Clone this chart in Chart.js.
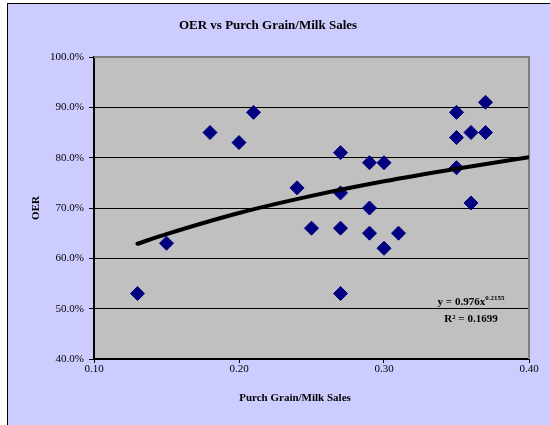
<!DOCTYPE html>
<html>
<head>
<meta charset="utf-8">
<title>OER vs Purch Grain/Milk Sales</title>
<script src="https://cdn.jsdelivr.net/npm/chart.js@4.4.1/dist/chart.umd.min.js"></script>
<style>
  body { margin: 0; background: #ffffff; }
  canvas { display: block; }
</style>
</head>
<body>
<canvas id="oerChart" width="550" height="425"></canvas>
<script>
// Data
const grainMilkRatio = [0.13, 0.15, 0.18, 0.20, 0.21, 0.24, 0.25, 0.27, 0.27, 0.27, 0.27, 0.29,
                        0.30, 0.29, 0.29, 0.30, 0.31, 0.35, 0.35, 0.35, 0.36, 0.36, 0.37, 0.37];
const oerPercent = [53, 63, 85, 83, 89, 74, 66, 81, 73, 66, 53, 79,
                    79, 70, 65, 62, 65, 89, 84, 78, 85, 71, 91, 85];

const trendX = [0.13, 0.15, 0.20, 0.25, 0.30, 0.35, 0.40];
const trendY = [62.9, 64.8, 69.0, 72.4, 75.3, 77.8, 80.1];

const xTicks = [0.10, 0.20, 0.30, 0.40];
const yTicks = [40, 50, 60, 70, 80, 90, 100];

const chartTitle = 'OER vs Purch Grain/Milk Sales';
const xAxisTitle = 'Purch Grain/Milk Sales';
const yAxisTitle = 'OER';
const equationMain = 'y = 0.976x';
const equationPower = '0.2155';
const rSquaredText = 'R\u00b2 = 0.1699';

const serif = '"Liberation Serif", "Times New Roman", serif';

const points = grainMilkRatio.map((x, i) => ({ x: x, y: oerPercent[i] }));
const trendPoints = trendX.map((x, i) => ({ x: x, y: trendY[i] }));

// Backgrounds, borders and free text
const excelLook = {
    id: 'excelLook',
    beforeDraw(chart) {
        const ctx = chart.ctx;
        const area = chart.chartArea;
        ctx.save();
        ctx.fillStyle = '#ffffff';
        ctx.fillRect(0, 0, chart.width, chart.height);
        ctx.fillStyle = '#ccccff';
        ctx.fillRect(8, 4, chart.width - 8, chart.height - 4);
        ctx.fillStyle = '#000000';
        ctx.fillRect(7, 3, chart.width - 7, 1);
        ctx.fillRect(7, 3, 1, chart.height - 3);
        ctx.fillStyle = '#c0c0c0';
        ctx.fillRect(area.left, area.top, area.right - area.left, area.bottom - area.top);
        ctx.restore();
    },
    beforeDatasetsDraw(chart) {
        const ctx = chart.ctx;
        const area = chart.chartArea;
        ctx.save();
        ctx.strokeStyle = '#808080';
        ctx.lineWidth = 2;
        ctx.beginPath();
        ctx.moveTo(area.left, area.top);
        ctx.lineTo(area.right, area.top);
        ctx.lineTo(area.right, area.bottom);
        ctx.stroke();
        ctx.restore();
    },
    afterDraw(chart) {
        const ctx = chart.ctx;
        ctx.save();
        ctx.fillStyle = '#000000';
        ctx.textBaseline = 'alphabetic';

        // main title
        ctx.font = 'bold 13px ' + serif;
        ctx.textAlign = 'center';
        ctx.fillText(chartTitle, 268, 29);

        // x axis title
        ctx.font = 'bold 11px ' + serif;
        ctx.fillText(xAxisTitle, 295, 401);

        // trendline equation
        ctx.textAlign = 'left';
        ctx.font = 'bold 11px ' + serif;
        const mainW = ctx.measureText(equationMain).width;
        ctx.font = 'bold 7px ' + serif;
        const powW = ctx.measureText(equationPower).width;
        const startX = 471 - (mainW + powW) / 2;
        ctx.font = 'bold 11px ' + serif;
        ctx.fillText(equationMain, startX, 305);
        ctx.font = 'bold 7px ' + serif;
        ctx.fillText(equationPower, startX + mainW, 300);

        ctx.font = 'bold 11px ' + serif;
        ctx.textAlign = 'center';
        ctx.fillText(rSquaredText, 471, 322);
        ctx.restore();
    }
};

const ctx = document.getElementById('oerChart').getContext('2d');

new Chart(ctx, {
    type: 'scatter',
    data: {
        datasets: [{
            type: 'line',
            label: 'Power trend',
            data: trendPoints,
            borderColor: '#000000',
            borderWidth: 4,
            pointRadius: 0,
            fill: false,
            cubicInterpolationMode: 'monotone',
            borderCapStyle: 'round',
            order: 0
        }, {
            label: 'OER',
            data: points,
            pointStyle: 'rectRot',
            pointRadius: 7,
            pointBorderWidth: 1,
            backgroundColor: '#000080',
            borderColor: '#000080',
            order: 1
        }]
    },
    options: {
        responsive: false,
        animation: false,
        events: [],
        layout: { padding: { top: 57, right: 21, bottom: 0, left: 0 } },
        plugins: {
            legend: { display: false },
            tooltip: { enabled: false },
            title: { display: false }
        },
        scales: {
            x: {
                type: 'linear',
                min: 0.1,
                max: 0.4,
                afterFit(scale) { scale.height = 66; },
                afterBuildTicks(scale) { scale.ticks = xTicks.map(v => ({ value: v })); },
                grid: { drawOnChartArea: false, drawTicks: true, tickLength: 4, tickColor: '#000000' },
                border: { display: true, color: '#000000', width: 2 },
                ticks: {
                    padding: 0,
                    color: '#000000',
                    font: { family: serif, size: 11 },
                    maxRotation: 0,
                    callback: v => Number(v).toFixed(2)
                }
            },
            y: {
                type: 'linear',
                min: 40,
                max: 100,
                afterFit(scale) { scale.width = 94; },
                afterBuildTicks(scale) { scale.ticks = yTicks.map(v => ({ value: v })); },
                grid: {
                    color: c => (c.tick && (c.tick.value === 40 || c.tick.value === 100)) ? 'rgba(0,0,0,0)' : '#000000',
                    lineWidth: 1,
                    tickLength: 5,
                    tickColor: '#000000'
                },
                border: { display: true, color: '#000000', width: 2 },
                title: {
                    display: true,
                    text: yAxisTitle,
                    color: '#000000',
                    font: { family: serif, size: 11, weight: 'bold' },
                    padding: { top: 30, bottom: 0 }
                },
                ticks: {
                    padding: 5,
                    color: '#000000',
                    font: { family: serif, size: 11 },
                    callback: v => Number(v).toFixed(1) + '%'
                }
            }
        }
    },
    plugins: [excelLook]
});
</script>
</body>
</html>
